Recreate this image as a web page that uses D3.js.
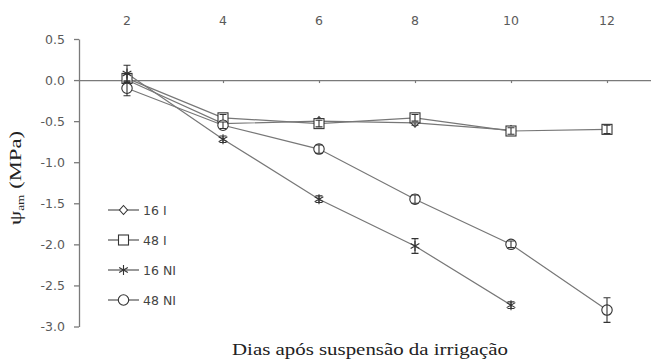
<!DOCTYPE html>
<html>
<head>
<meta charset="utf-8">
<script src="https://cdn.jsdelivr.net/npm/d3@7/dist/d3.min.js"></script>
<style>
  html, body { margin: 0; padding: 0; background: #fff; }
  svg { display: block; }
</style>
</head>
<body>
<svg id="chart" width="651" height="359"></svg>
<script>
// Days after irrigation was suspended
const days = [2, 4, 6, 8, 10, 12];
const xTicks = [2, 4, 6, 8, 10, 12];
const yTicks = [0.5, 0.0, -0.5, -1.0, -1.5, -2.0, -2.5, -3.0];

// Leaf water potential (MPa) and standard errors per treatment
const seriesNames = ["16 I", "48 I", "16 NI", "48 NI"];
const v16I  = [0.00, -0.53, -0.50, -0.52, -0.61, null];
const e16I  = [0.05, 0.03, 0.03, 0.03, 0.03, null];
const v48I  = [0.02, -0.46, -0.53, -0.46, -0.62, -0.60];
const e48I  = [0.05, 0.04, 0.04, 0.04, 0.04, 0.05];
const v16NI = [0.08, -0.72, -1.45, -2.02, -2.74, null];
const e16NI = [0.10, 0.04, 0.04, 0.09, 0.04, null];
const v48NI = [-0.10, -0.55, -0.84, -1.45, -2.00, -2.80];
const e48NI = [0.09, 0.04, 0.05, 0.05, 0.04, 0.15];

const markerKinds = ["diamond", "square", "star", "circle"];

const values = [v16I, v48I, v16NI, v48NI];
const errors = [e16I, e48I, e16NI, e48NI];

const svg = d3.select("#chart");
const x = d3.scaleLinear().domain([1, 13]).range([79, 655]);
const y = d3.scaleLinear().domain([0.5, -3.0]).range([39, 326.5]);

const tickFont = "'DejaVu Sans', sans-serif";
const serif = "'Liberation Serif', 'DejaVu Serif', serif";
const tickColor = "#5a5a5a";

// Vertical axis on the left
const yAxis = svg.append("g").attr("transform", `translate(${x(1)},0)`)
  .call(d3.axisLeft(y).tickValues(yTicks).tickFormat(d3.format(".1f")).tickSize(5).tickSizeOuter(0));
yAxis.select(".domain").attr("stroke", "#7a7a7a").attr("stroke-width", 1.3);
yAxis.selectAll(".tick line").attr("stroke", "#7a7a7a").attr("stroke-width", 1.3);
yAxis.selectAll(".tick text").attr("fill", tickColor).attr("font-family", tickFont)
  .attr("font-size", 12.5).attr("x", -14)
  .text(d => d3.format(".1f")(d).replace("−", "-"));

// Horizontal axis through zero, labels placed on top
const xAxis = svg.append("g").attr("transform", `translate(0,${y(0)})`)
  .call(d3.axisBottom(x).tickValues(xTicks).tickSize(3).tickSizeOuter(0).tickFormat(""));
xAxis.select(".domain").attr("stroke", "#7a7a7a").attr("stroke-width", 1.3);
xAxis.selectAll(".tick line").attr("stroke", "#7a7a7a").attr("stroke-width", 1.2);

svg.append("g").selectAll("text").data(xTicks).join("text")
  .attr("x", d => x(d)).attr("y", 25)
  .attr("text-anchor", "middle")
  .attr("fill", tickColor).attr("font-family", tickFont).attr("font-size", 12.5)
  .text(d => d);

// Axis titles
const yTitle = svg.append("text")
  .attr("transform", `translate(21,178) rotate(-90)`)
  .attr("text-anchor", "middle")
  .attr("fill", "#222").attr("font-family", serif).attr("font-size", 17)
  .attr("textLength", 94).attr("lengthAdjust", "spacingAndGlyphs");
yTitle.append("tspan").text("ψ");
yTitle.append("tspan").attr("font-size", 10).attr("dy", 3).text("am");
yTitle.append("tspan").attr("dy", -3).text(" (MPa)");

svg.append("text")
  .attr("x", 370).attr("y", 355)
  .attr("text-anchor", "middle")
  .attr("fill", "#222").attr("font-family", serif).attr("font-size", 16.5)
  .attr("textLength", 276).attr("lengthAdjust", "spacingAndGlyphs")
  .text("Dias após suspensão da irrigação");

// Marker drawing
function drawMarker(g, kind, cx, cy) {
  const s = "#333";
  if (kind === "diamond") {
    g.append("path").attr("d", `M${cx},${cy - 4.5}L${cx + 4},${cy}L${cx},${cy + 4.5}L${cx - 4},${cy}Z`)
      .attr("fill", "#fff").attr("stroke", s).attr("stroke-width", 1.1);
  } else if (kind === "square") {
    g.append("rect").attr("x", cx - 5).attr("y", cy - 5).attr("width", 10).attr("height", 10)
      .attr("fill", "#fff").attr("stroke", s).attr("stroke-width", 1.1);
  } else if (kind === "circle") {
    g.append("circle").attr("cx", cx).attr("cy", cy).attr("r", 5.2)
      .attr("fill", "#fff").attr("stroke", s).attr("stroke-width", 1.1);
  } else if (kind === "star") {
    const r = 5;
    g.append("path")
      .attr("d", `M${cx},${cy - r}L${cx},${cy + r}M${cx - r * 0.87},${cy - r * 0.5}L${cx + r * 0.87},${cy + r * 0.5}M${cx - r * 0.87},${cy + r * 0.5}L${cx + r * 0.87},${cy - r * 0.5}`)
      .attr("fill", "none").attr("stroke", s).attr("stroke-width", 1.1);
  }
}

const line = d3.line()
  .defined(d => d.v !== null)
  .x(d => x(d.day)).y(d => y(d.v));

const plot = svg.append("g");

// Lines first
values.forEach((vals, i) => {
  const pts = days.map((d, j) => ({ day: d, v: vals[j] }));
  plot.append("path").datum(pts)
    .attr("d", line)
    .attr("fill", "none").attr("stroke", "#777").attr("stroke-width", 1.2);
});

// Error bars and markers
values.forEach((vals, i) => {
  const g = plot.append("g");
  days.forEach((d, j) => {
    const v = vals[j];
    if (v === null) return;
    const e = errors[i][j];
    const cx = x(d);
    const yt = y(v + e), yb = y(v - e);
    drawMarker(g, markerKinds[i], cx, y(v));
    g.append("path")
      .attr("d", `M${cx},${yt}L${cx},${yb}M${cx - 3.5},${yt}L${cx + 3.5},${yt}M${cx - 3.5},${yb}L${cx + 3.5},${yb}`)
      .attr("fill", "none").attr("stroke", "#333").attr("stroke-width", 1.1);
  });
});

// Legend
const legY = d3.scaleLinear().domain([0, 3]).range([210, 300]);
seriesNames.forEach((name, i) => {
  const g = svg.append("g");
  const ly = legY(i);
  g.append("line").attr("x1", 108).attr("x2", 139).attr("y1", ly).attr("y2", ly)
    .attr("stroke", "#555").attr("stroke-width", 1.2);
  drawMarker(g, markerKinds[i], 123.5, ly);
  g.append("text").attr("x", 143).attr("y", ly + 4.5)
    .attr("fill", "#444").attr("font-family", tickFont).attr("font-size", 12.5)
    .text(name);
});
</script>
</body>
</html>
